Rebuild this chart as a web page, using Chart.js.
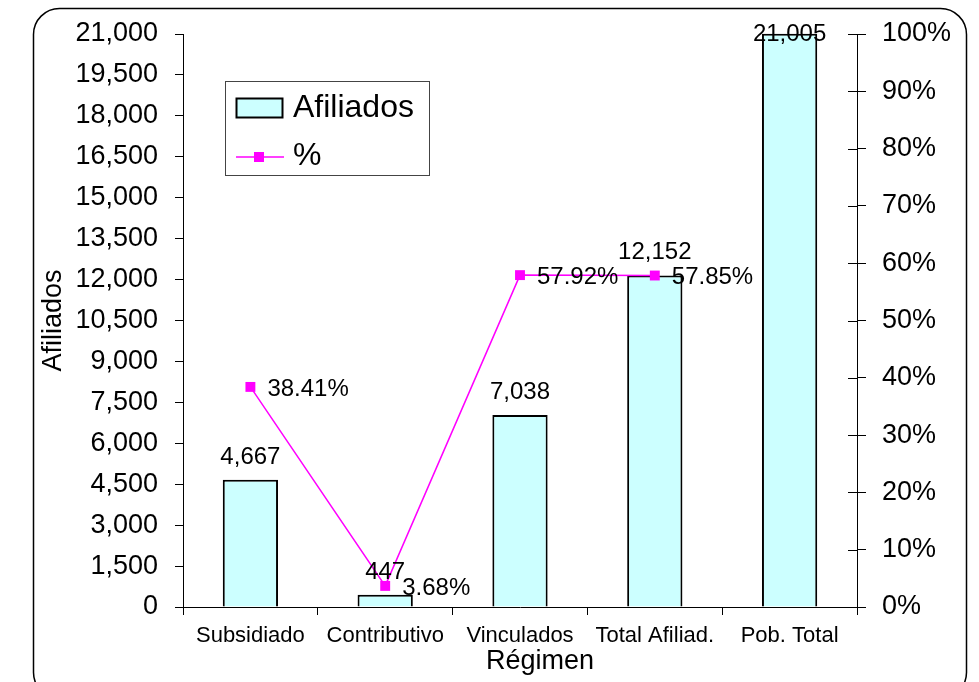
<!DOCTYPE html>
<html>
<head>
<meta charset="utf-8">
<script src="https://cdn.jsdelivr.net/npm/chart.js@4"></script>
<style>
  body { margin: 0; background: #fff; }
</style>
</head>
<body>
<canvas id="chart" width="979" height="682"></canvas>
<script>
const categories = ['Subsidiado', 'Contributivo', 'Vinculados', 'Total Afiliad.', 'Pob. Total'];
const afiliados = [4667, 447, 7038, 12152, 21005];
const porcentaje = [0.3841, 0.0368, 0.5792, 0.5785, null];
const porcentajeLabels = ['38.41%', '3.68%', '57.92%', '57.85%', ''];

const FONT = '"Liberation Sans", Arial, sans-serif';
const barFill = '#CCFFFF';
const lineColor = '#FF00FF';

// border, data labels, legend and the crossing ticks of the right axis
const extras = {
    id: 'extras',
    beforeDraw(chart) {
        const ctx = chart.ctx;
        ctx.save();
        ctx.fillStyle = '#fff';
        ctx.fillRect(0, 0, chart.width, chart.height);
        ctx.beginPath();
        ctx.roundRect(33.5, 8.5, 933, 690, 26);
        ctx.strokeStyle = '#000';
        ctx.lineWidth = 1.5;
        ctx.stroke();
        ctx.restore();
    },
    afterDatasetsDraw(chart) {
        const ctx = chart.ctx;
        ctx.save();
        ctx.fillStyle = '#000';

        // bar labels
        ctx.font = '24px ' + FONT;
        ctx.textAlign = 'center';
        ctx.textBaseline = 'alphabetic';
        chart.getDatasetMeta(0).data.forEach(function(bar, i) {
            const y = Math.max(bar.y - 16, 41);
            ctx.fillText(afiliados[i].toLocaleString('en-US'), bar.x, y);
        });

        // line labels
        ctx.textAlign = 'left';
        ctx.textBaseline = 'middle';
        chart.getDatasetMeta(1).data.forEach(function(pt, i) {
            if (porcentaje[i] === null) return;
            ctx.fillText(porcentajeLabels[i], pt.x + 17, pt.y + 2);
        });

        // inward half of right axis ticks
        const yr = chart.scales.y1;
        ctx.strokeStyle = '#000';
        ctx.lineWidth = 1;
        yr.ticks.forEach(function(t) {
            const y = Math.round(yr.getPixelForValue(t.value)) + 0.5;
            ctx.beginPath();
            ctx.moveTo(yr.left - 9, y);
            ctx.lineTo(yr.left, y);
            ctx.stroke();
        });

        // x axis title
        ctx.textAlign = 'center';
        ctx.textBaseline = 'middle';
        ctx.font = '27px ' + FONT;
        ctx.fillText('Régimen', 540, 662);

        // legend
        ctx.fillStyle = '#fff';
        ctx.fillRect(225.5, 81.5, 204, 94);
        ctx.strokeStyle = '#444';
        ctx.strokeRect(225.5, 81.5, 204, 94);
        ctx.fillStyle = barFill;
        ctx.fillRect(236.5, 98.5, 46, 19);
        ctx.strokeStyle = '#000';
        ctx.lineWidth = 2;
        ctx.strokeRect(236.5, 98.5, 46, 19);
        ctx.strokeStyle = lineColor;
        ctx.lineWidth = 1.5;
        ctx.beginPath();
        ctx.moveTo(236, 157);
        ctx.lineTo(284, 157);
        ctx.stroke();
        ctx.fillStyle = lineColor;
        ctx.fillRect(254, 152, 10, 10);
        ctx.fillStyle = '#000';
        ctx.textAlign = 'left';
        ctx.font = '32px ' + FONT;
        ctx.fillText('Afiliados', 293, 108);
        ctx.fillText('%', 293, 156);
        ctx.restore();
    }
};

const ctx = document.getElementById('chart').getContext('2d');
const chart = new Chart(ctx, {
    data: {
        labels: categories,
        datasets: [{
            type: 'bar',
            label: 'Afiliados',
            data: afiliados,
            yAxisID: 'y',
            backgroundColor: barFill,
            borderColor: '#000',
            borderWidth: 2,
            barPercentage: 0.41,
            categoryPercentage: 1,
            clip: false,
            order: 1
        }, {
            type: 'line',
            label: '%',
            data: porcentaje,
            yAxisID: 'y1',
            borderColor: lineColor,
            borderWidth: 1.5,
            backgroundColor: lineColor,
            pointStyle: 'rect',
            pointRadius: 7,
            pointBorderWidth: 0,
            pointBackgroundColor: lineColor,
            tension: 0,
            order: 0
        }]
    },
    options: {
        responsive: false,
        animation: false,
        layout: { padding: { top: 34, left: 0, right: 0, bottom: 0 } },
        plugins: {
            legend: { display: false },
            tooltip: { enabled: false }
        },
        scales: {
            x: {
                offset: true,
                grid: { offset: true, drawOnChartArea: false, drawTicks: true, tickLength: 8, color: '#000' },
                border: { display: true, color: '#000', width: 1 },
                ticks: { color: '#000', font: { family: FONT, size: 22 }, padding: 8, maxRotation: 0 },
                afterFit: function(scale) { scale.height = 75; }
            },
            y: {
                position: 'left',
                min: 0,
                max: 21000,
                grid: { drawOnChartArea: false, drawTicks: true, tickLength: 8, color: '#000' },
                border: { display: true, color: '#000', width: 1 },
                ticks: {
                    stepSize: 1500,
                    color: '#000',
                    padding: 17,
                    font: { family: FONT, size: 27 },
                    callback: function(v) { return v.toLocaleString('en-US'); }
                },
                title: {
                    display: true,
                    text: 'Afiliados',
                    color: '#000',
                    font: { family: FONT, size: 27 },
                    padding: { top: 37, bottom: 0 }
                },
                afterFit: function(scale) { scale.width = 183; }
            },
            y1: {
                position: 'right',
                min: 0,
                max: 1,
                grid: { drawOnChartArea: false, drawTicks: true, tickLength: 9, color: '#000' },
                border: { display: true, color: '#000', width: 1 },
                ticks: {
                    stepSize: 0.1,
                    color: '#000',
                    padding: 16,
                    font: { family: FONT, size: 27 },
                    callback: function(v) { return Math.round(v * 100) + '%'; }
                },
                afterFit: function(scale) { scale.width = 122; }
            }
        }
    },
    plugins: [extras]
});
</script>
</body>
</html>
